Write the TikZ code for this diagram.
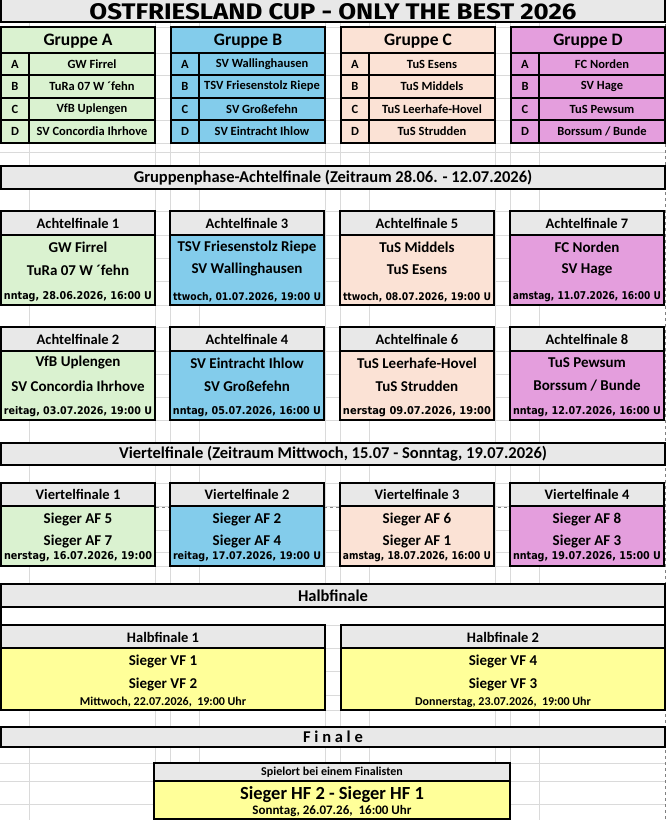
\documentclass[tikz,border=0pt]{standalone}
\usepackage{fontspec}
\setmainfont{Carlito}
\newfontfamily\datefont{DejaVu Sans}
\newfontfamily\titlefont{Fira Sans}
\definecolor{grA}{HTML}{DAF2D0}
\definecolor{grB}{HTML}{83CCEB}
\definecolor{grC}{HTML}{FBE2D5}
\definecolor{grD}{HTML}{E49EDD}
\definecolor{hdr}{HTML}{E8E8E8}
\definecolor{yel}{HTML}{FFFF99}
\definecolor{gridc}{HTML}{DADADA}
\tikzset{
  outer/.style={draw=black, line width=2.8pt},
  inner/.style={draw=black, line width=1.6pt},
  sepline/.style={draw=black, line width=2.2pt},
  gridline/.style={draw=gridc, line width=0.7pt},
  pagebreak/.style={draw=gray, line width=0.8pt, dashed},
  gtitle/.style={font=\bfseries\fontsize{17.5}{19}\selectfont, inner sep=0pt},
  cell/.style={font=\bfseries\fontsize{12.5}{14}\selectfont, inner sep=0pt},
  mhead/.style={font=\bfseries\fontsize{14.5}{16}\selectfont, inner sep=0pt},
  team/.style={font=\bfseries\fontsize{15}{17}\selectfont, inner sep=0pt},
  datetxt/.style={font=\datefont\bfseries\fontsize{10}{12}\selectfont, inner sep=0pt},
  smalldate/.style={font=\bfseries\fontsize{12}{14}\selectfont, inner sep=0pt},
  bartxt/.style={font=\bfseries\fontsize{16.5}{18}\selectfont, inner sep=0pt},
}
\newcommand\grouptab[8]{%
  \fill[#3] (#2,27) rectangle ({#2+154},143);
  \foreach \yy in {75,98,120} \draw[inner] (#2,\yy) -- ({#2+154},\yy);
  \draw[sepline] (#2,53) -- ({#2+154},53);
  \draw[inner] ({#2+28},53) -- ({#2+28},143);
  \draw[outer] (#2,27) rectangle ({#2+154},143);
  \node[gtitle] (#1t) at ({#2+77},41) {#4};
  \node[cell] (#1la) at ({#2+14},64) {A};
  \node[cell] (#1lb) at ({#2+14},86.5) {B};
  \node[cell] (#1lc) at ({#2+14},109) {C};
  \node[cell] (#1ld) at ({#2+14},131.5) {D};
  \node[cell] (#1a) at ({#2+91},64) {#5};
  \node[cell] (#1b) at ({#2+91},86.5) {#6};
  \node[cell] (#1c) at ({#2+91},109) {#7};
  \node[cell] (#1d) at ({#2+91},131.5) {#8};
}
\newcommand\matchbox[8]{%
  \fill[#4] (#2,#3) rectangle ({#2+154},{#3+\boxTot});
  \fill[hdr] (#2,#3) rectangle ({#2+154},{#3+\boxHd});
  \draw[sepline] (#2,{#3+\boxHd}) -- ({#2+154},{#3+\boxHd});
  \node[mhead] (#1h) at ({#2+77},{#3+\boxHd/2}) {#5};
  \node[team] (#1a) at ({#2+77},{#3+\boxYa}) {#6};
  \node[team] (#1b) at ({#2+77},{#3+\boxYb}) {#7};
  \node[datetxt] (#1d) at ({#2+77},{#3+\boxYd}) {\resizebox{148pt}{8pt}{#8}};
  \draw[outer] (#2,#3) rectangle ({#2+154},{#3+\boxTot});
}
\newcommand\hfbox[6]{%
  \fill[yel] (#2,625) rectangle ({#2+324},710);
  \fill[hdr] (#2,625) rectangle ({#2+324},648);
  \draw[sepline] (#2,648) -- ({#2+324},648);
  \node[mhead] (#1h) at ({#2+162},637) {#3};
  \node[team] (#1a) at ({#2+162},661) {#4};
  \node[team] (#1b) at ({#2+162},684) {#5};
  \node[smalldate] (#1d) at ({#2+162},702) {#6};
  \draw[outer] (#2,625) rectangle ({#2+324},710);
}
\newcommand\stagebar[4]{%
  \fill[hdr] (1,#2) rectangle (665,#3);
  \draw[outer] (1,#2) rectangle (665,#3);
  \node[bartxt] (#1) at (333,{(#2+#3)/2}) {#4};
}
\begin{document}
\begin{tikzpicture}[x=1pt,y=-1pt]
\useasboundingbox (0,0) rectangle (666,820);
\fill[white] (0,0) rectangle (666,820);
% spreadsheet grid
\foreach \cx in {29,155,170,199,325,340,369,495,510,539}
  \draw[gridline] (\cx,0) -- (\cx,820);
\foreach \ry in {22,27,53,75,98,120,143,152,166,188,211,235,258,281,305,327,351,374,397,420,443,465,483,506,530,552,566,585,607,625,648,671,695,710,727,747,763,781,804}
  \draw[gridline] (0,\ry) -- (666,\ry);
\draw[pagebreak] (665,0) -- (665,820);
\draw[pagebreak] (0,507) -- (666,507);
% title
\fill[hdr] (1,0) rectangle (665,22);
\draw[outer] (1,-2) rectangle (665,22);
\node[inner sep=0pt] (title) at (333,12) {\resizebox{487pt}{16pt}{\titlefont\bfseries OSTFRIESLAND CUP - ONLY THE BEST 2026}};
% groups
\grouptab{ga}{1}{grA}{Gruppe A}{GW Firrel}{TuRa 07 W ´fehn}{VfB Uplengen}{SV Concordia Ihrhove}
\grouptab{gb}{171}{grB}{Gruppe B}{SV Wallinghausen}{TSV Friesenstolz Riepe}{SV Großefehn}{SV Eintracht Ihlow}
\grouptab{gc}{341}{grC}{Gruppe C}{TuS Esens}{TuS Middels}{TuS Leerhafe-Hovel}{TuS Strudden}
\grouptab{gd}{511}{grD}{Gruppe D}{FC Norden}{SV Hage}{TuS Pewsum}{Borssum / Bunde}
% Achtelfinale
\stagebar{barAF}{166}{189}{Gruppenphase-Achtelfinale (Zeitraum 28.06. - 12.07.2026)}
\def\boxHd{24}\def\boxTot{94}\def\boxYa{36}\def\boxYb{59}\def\boxYd{86}
\matchbox{af1}{1}{211}{grA}{Achtelfinale 1}{GW Firrel}{TuRa 07 W ´fehn}{nntag, 28.06.2026, 16:00 U}
\matchbox{af3}{170}{211}{grB}{Achtelfinale 3}{TSV Friesenstolz Riepe}{SV Wallinghausen}{ttwoch, 01.07.2026, 19:00 U}
\matchbox{af5}{340}{211}{grC}{Achtelfinale 5}{TuS Middels}{TuS Esens}{ttwoch, 08.07.2026, 19:00 U}
\matchbox{af7}{510}{211}{grD}{Achtelfinale 7}{FC Norden}{SV Hage}{amstag, 11.07.2026, 16:00 U}
\def\boxTot{93}\def\boxYd{85}
\matchbox{af2}{1}{327}{grA}{Achtelfinale 2}{VfB Uplengen}{SV Concordia Ihrhove}{reitag, 03.07.2026, 19:00 U}
\matchbox{af4}{170}{327}{grB}{Achtelfinale 4}{SV Eintracht Ihlow}{SV Großefehn}{nntag, 05.07.2026, 16:00 U}
\matchbox{af6}{340}{327}{grC}{Achtelfinale 6}{TuS Leerhafe-Hovel}{TuS Strudden}{nerstag 09.07.2026, 19:00}
\matchbox{af8}{510}{327}{grD}{Achtelfinale 8}{TuS Pewsum}{Borssum / Bunde}{nntag, 12.07.2026, 16:00 U}
% Viertelfinale
\stagebar{barVF}{443}{465}{Viertelfinale (Zeitraum Mittwoch, 15.07 - Sonntag, 19.07.2026)}
\def\boxHd{23}\def\boxTot{83}\def\boxYa{36}\def\boxYb{58}\def\boxYd{74}
\matchbox{vf1}{1}{483}{grA}{Viertelfinale 1}{Sieger AF 5}{Sieger AF 7}{nerstag, 16.07.2026, 19:00}
\matchbox{vf2}{170}{483}{grB}{Viertelfinale 2}{Sieger AF 2}{Sieger AF 4}{reitag, 17.07.2026, 19:00 U}
\matchbox{vf3}{340}{483}{grC}{Viertelfinale 3}{Sieger AF 6}{Sieger AF 1}{amstag, 18.07.2026, 16:00 U}
\matchbox{vf4}{510}{483}{grD}{Viertelfinale 4}{Sieger AF 8}{Sieger AF 3}{nntag, 19.07.2026, 15:00 U}
% Halbfinale
\fill[white] (1,607) rectangle (665,625);
\draw[outer] (1,625) -- (1,584) -- (665,584) -- (665,625);
\stagebar{barHF}{584}{607}{Halbfinale}
\hfbox{hf1}{1}{Halbfinale 1}{Sieger VF 1}{Sieger VF 2}{Mittwoch, 22.07.2026,\ \ 19:00 Uhr}
\hfbox{hf2}{341}{Halbfinale 2}{Sieger VF 4}{Sieger VF 3}{Donnerstag, 23.07.2026,\ \ 19:00 Uhr}
% Finale
\stagebar{barF}{727}{747}{F i n a l e}
\fill[yel] (154,763) rectangle (510,819);
\fill[hdr] (154,763) rectangle (510,781);
\draw[inner] (154,781) -- (510,781);
\node[smalldate] (fh) at (332,772) {Spielort bei einem Finalisten};
\node[font=\bfseries\fontsize{18.5}{20}\selectfont, inner sep=0pt] (fm) at (332,795) {Sieger HF 2 - Sieger HF 1};
\node[font=\bfseries\fontsize{13}{15}\selectfont, inner sep=0pt] (fd) at (332,811) {Sonntag, 26.07.26,\ \ 16:00 Uhr};
\draw[outer] (154,763) rectangle (510,819);
\end{tikzpicture}
\end{document}
